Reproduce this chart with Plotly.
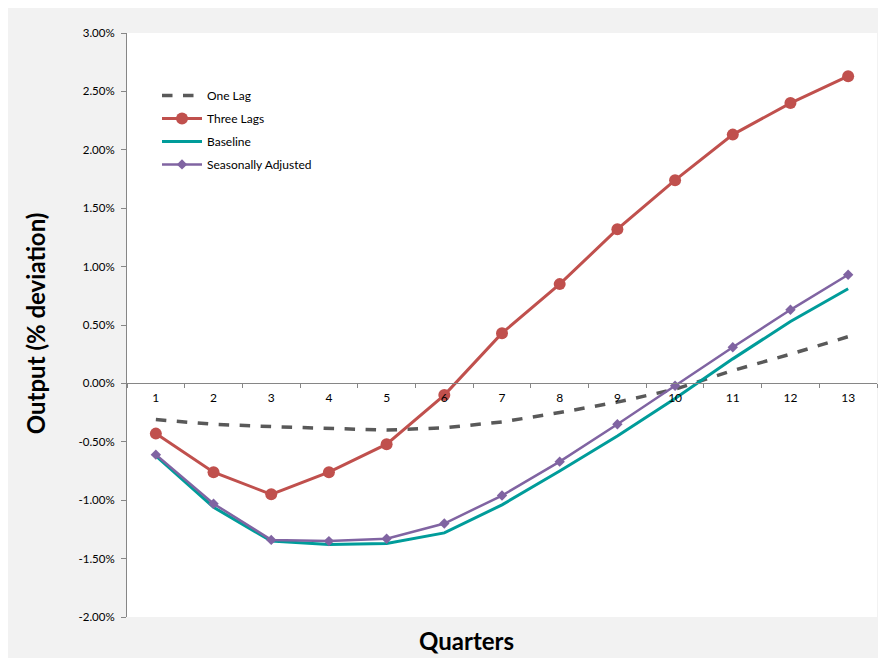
import plotly.graph_objects as go

# quarters on the x axis
quarters = [str(q) for q in range(1, 14)]

# output, % deviation from steady state
one_lag = [-0.31, -0.35, -0.37, -0.385, -0.40, -0.38, -0.33, -0.25, -0.16, -0.05, 0.11, 0.25, 0.40]
three_lags = [-0.43, -0.76, -0.95, -0.76, -0.52, -0.10, 0.43, 0.85, 1.32, 1.74, 2.13, 2.40, 2.63]
baseline = [-0.62, -1.06, -1.35, -1.38, -1.37, -1.28, -1.04, -0.75, -0.45, -0.13, 0.21, 0.53, 0.81]
seasonal = [-0.61, -1.03, -1.34, -1.35, -1.33, -1.20, -0.96, -0.67, -0.35, -0.02, 0.31, 0.63, 0.93]

# y tick labels as Excel prints them (plain hyphen for negatives)
y_ticks = [-2.0, -1.5, -1.0, -0.5, 0.0, 0.5, 1.0, 1.5, 2.0, 2.5, 3.0]
y_tick_labels = ["-2.00%", "-1.50%", "-1.00%", "-0.50%", "0.00%", "0.50%",
                 "1.00%", "1.50%", "2.00%", "2.50%", "3.00%"]

FONT = "Lato, 'Liberation Sans', Arial, sans-serif"

fig = go.Figure()

fig.add_trace(go.Scatter(
    x=quarters, y=one_lag, name="One Lag", mode="lines", legendgroup="a",
    line=dict(color="#595959", width=3.5, dash="dash"),
))
fig.add_trace(go.Scatter(
    x=quarters, y=three_lags, name="Three Lags", mode="lines+markers", legendgroup="b",
    line=dict(color="#c0504d", width=3),
    marker=dict(symbol="circle", size=12, color="#c0504d"),
))
fig.add_trace(go.Scatter(
    x=quarters, y=baseline, name="Baseline", mode="lines", legendgroup="c",
    line=dict(color="#009c9a", width=3),
))
fig.add_trace(go.Scatter(
    x=quarters, y=seasonal, name="Seasonally Adjusted", mode="lines+markers", legendgroup="d",
    line=dict(color="#8064a2", width=2.5),
    marker=dict(symbol="diamond", size=8, color="#8064a2"),
))

# the page adds an 8px white margin top/left, so the figure is 8px smaller
fig.update_layout(
    width=878, height=650,
    margin=dict(l=119, r=9, t=25, b=41, pad=0),
    paper_bgcolor="#f2f2f2",
    plot_bgcolor="white",
    font=dict(family=FONT, size=11.5, color="#000000"),
    showlegend=True,
    legend=dict(
        x=0.04, y=0.918, xanchor="left", yanchor="top",
        bgcolor="rgba(0,0,0,0)", font=dict(size=12),
        itemwidth=40, tracegroupgap=4, traceorder="grouped",
    ),
    annotations=[
        dict(text="<b>Output (% deviation)</b>", xref="paper", yref="paper",
             x=-0.1227, y=0.503, xanchor="center", yanchor="middle",
             textangle=-90, showarrow=False,
             font=dict(size=24, family=FONT)),
        dict(text="<b>Quarters</b>", xref="paper", yref="paper",
             x=0.452, y=-0.041, xanchor="center", yanchor="middle", showarrow=False,
             font=dict(size=24, family=FONT)),
    ],
)

# x axis crosses at y = 0, which sits 40% up the plot area
fig.update_xaxes(
    type="category", range=[-0.5, 12.5],
    anchor="free", position=0.4,
    showline=True, linecolor="#868686", linewidth=1,
    ticks="outside", tickson="boundaries", ticklen=4, tickcolor="#868686",
    ticklabelstandoff=3,
    showgrid=False, zeroline=False,
    tickfont=dict(size=12),
)

fig.update_yaxes(
    range=[-2, 3], tickvals=y_ticks, ticktext=y_tick_labels,
    showline=True, linecolor="#868686", linewidth=1,
    ticks="outside", ticklen=5, tickcolor="#868686",
    ticklabelstandoff=4,
    showgrid=False, zeroline=False,
)

fig.write_html("out.html")
